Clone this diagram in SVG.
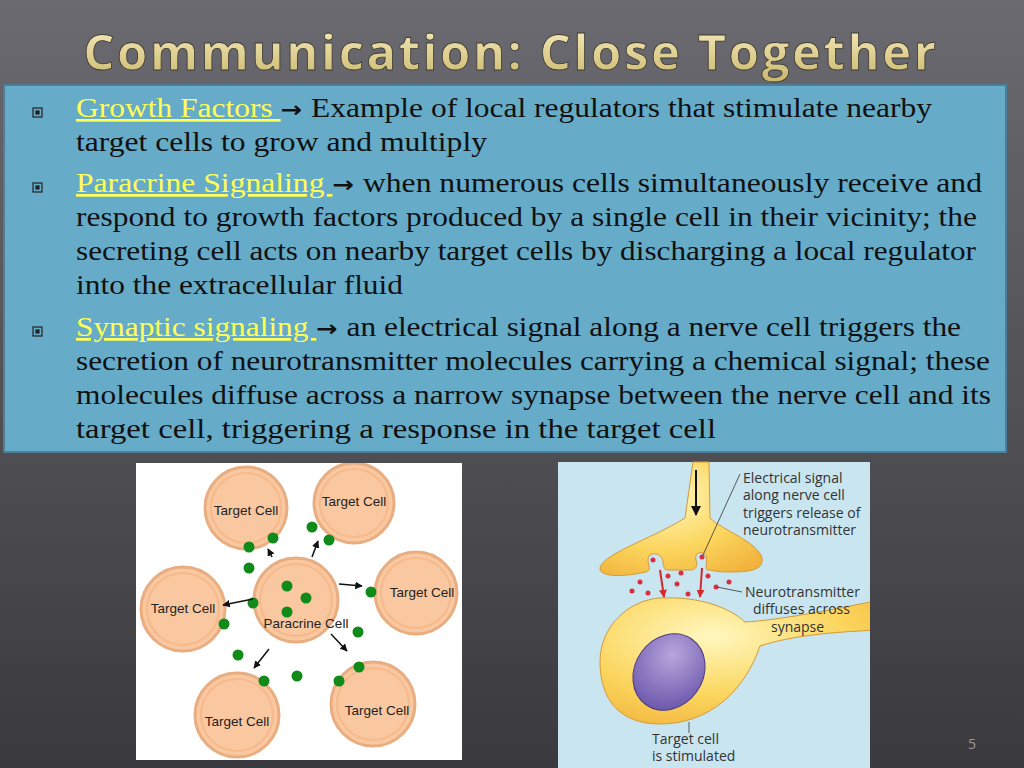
<svg xmlns="http://www.w3.org/2000/svg" width="1024" height="768" viewBox="0 0 1024 768">
<defs>
<linearGradient id="bg" x1="0" y1="0" x2="0" y2="1"><stop offset="0" stop-color="#6a6a70"/><stop offset="1" stop-color="#3a3a3e"/></linearGradient>
<linearGradient id="gold" x1="0" y1="0" x2="0" y2="1"><stop offset="0" stop-color="#fbf2c4"/><stop offset="1" stop-color="#c9b46a"/></linearGradient>
<radialGradient id="yel" cx="0.4" cy="0.3" r="0.8"><stop offset="0" stop-color="#fff8c0"/><stop offset="0.6" stop-color="#fbd55c"/><stop offset="1" stop-color="#f2b43e"/></radialGradient>
<radialGradient id="nuc" cx="0.4" cy="0.3" r="0.8"><stop offset="0" stop-color="#b9a6dc"/><stop offset="1" stop-color="#6450a8"/></radialGradient>
<clipPath id="c1"><rect x="136" y="463" width="326" height="297"/></clipPath>
<clipPath id="c2"><rect x="558" y="462" width="312" height="306"/></clipPath>
<marker id="ah" viewBox="0 0 10 10" refX="9" refY="5" markerWidth="5" markerHeight="5" orient="auto"><path d="M0,0L10,5L0,10z" fill="#111"/></marker>
<marker id="ahr" viewBox="0 0 10 10" refX="9" refY="5" markerWidth="4" markerHeight="5" orient="auto"><path d="M0,0L10,5L0,10z" fill="#d42a2a"/></marker>
</defs>
<style>
.t{font-family:"Liberation Serif",serif;font-size:27px;fill:#111}
.l{fill:#ffff55;text-decoration:underline}
.ar{font-family:"DejaVu Sans",sans-serif;font-weight:bold;font-size:22px}
.c{fill:#fac8a0;stroke:#e8ad80;stroke-width:3}
.ci{fill:none;stroke:#f6b98c;stroke-width:2}
.cl{font-family:"Liberation Sans",Arial,sans-serif;font-size:13.5px;fill:#222}
.g{fill:#108a18}
.s{font-family:"Open Sans","DejaVu Sans",sans-serif;font-size:14px;fill:#333}
.rd{fill:#d83040}
</style>
<rect width="1024" height="768" fill="url(#bg)"/>
<text x="511" y="70" text-anchor="middle" font-family="'Open Sans','DejaVu Sans',sans-serif" font-size="49" font-weight="bold" fill="url(#gold)" stroke="#3a3a30" stroke-width="0.8" letter-spacing="2.6">Communication: Close Together</text>
<rect x="4" y="85" width="1002" height="367" fill="#66abc8" stroke="#4c7e9a" stroke-width="2"/>
<g fill="none" stroke="#222" stroke-width="1.2">
<rect x="33" y="108" width="9" height="9"/><rect x="36" y="111" width="3" height="3" fill="#222"/>
<rect x="33" y="183" width="9" height="9"/><rect x="36" y="186" width="3" height="3" fill="#222"/>
<rect x="33" y="327" width="9" height="9"/><rect x="36" y="330" width="3" height="3" fill="#222"/>
</g>
<g class="t">
<text x="76" y="117" textLength="856" lengthAdjust="spacingAndGlyphs"><tspan class="l">Growth Factors </tspan><tspan class="ar"> → </tspan>Example of local regulators that stimulate nearby</text>
<text x="76" y="151" textLength="411" lengthAdjust="spacingAndGlyphs">target cells to grow and multiply</text>
<text x="76" y="192" textLength="906" lengthAdjust="spacingAndGlyphs"><tspan class="l">Paracrine Signaling </tspan><tspan class="ar"> → </tspan>when numerous cells simultaneously receive and</text>
<text x="76" y="226" textLength="901" lengthAdjust="spacingAndGlyphs">respond to growth factors produced by a single cell in their vicinity; the</text>
<text x="76" y="260" textLength="900" lengthAdjust="spacingAndGlyphs">secreting cell acts on nearby target cells by discharging a local regulator</text>
<text x="76" y="294" textLength="327" lengthAdjust="spacingAndGlyphs">into the extracellular fluid</text>
<text x="76" y="336" textLength="885" lengthAdjust="spacingAndGlyphs"><tspan class="l">Synaptic signaling </tspan><tspan class="ar"> → </tspan>an electrical signal along a nerve cell triggers the</text>
<text x="76" y="370" textLength="914" lengthAdjust="spacingAndGlyphs">secretion of neurotransmitter molecules carrying a chemical signal; these</text>
<text x="76" y="404" textLength="915" lengthAdjust="spacingAndGlyphs">molecules diffuse across a narrow synapse between the nerve cell and its</text>
<text x="76" y="438" textLength="640" lengthAdjust="spacingAndGlyphs">target cell, triggering a response in the target cell</text>
</g>
<g id="paracrine-figure">
<rect x="136" y="463" width="326" height="297" fill="#ffffff"/>
<g clip-path="url(#c1)">
<g id="tc1"><circle cx="246" cy="508" r="41" class="c"/><circle cx="246" cy="508" r="35" class="ci"/><text x="246" y="515" class="cl" text-anchor="middle">Target Cell</text></g>
<g id="tc2"><circle cx="354" cy="503" r="40" class="c"/><circle cx="354" cy="503" r="34" class="ci"/><text x="354" y="506" class="cl" text-anchor="middle">Target Cell</text></g>
<g id="tc3"><circle cx="416" cy="593" r="41" class="c"/><circle cx="416" cy="593" r="35" class="ci"/><text x="422" y="597" class="cl" text-anchor="middle">Target Cell</text></g>
<g id="tc4"><circle cx="183" cy="609" r="42" class="c"/><circle cx="183" cy="609" r="36" class="ci"/><text x="183" y="613" class="cl" text-anchor="middle">Target Cell</text></g>
<g id="tc5"><circle cx="237" cy="715" r="42" class="c"/><circle cx="237" cy="715" r="36" class="ci"/><text x="237" y="726" class="cl" text-anchor="middle">Target Cell</text></g>
<g id="tc6"><circle cx="373" cy="704" r="42" class="c"/><circle cx="373" cy="704" r="36" class="ci"/><text x="377" y="715" class="cl" text-anchor="middle">Target Cell</text></g>
<g id="pc"><circle cx="296" cy="600" r="42" class="c"/><circle cx="296" cy="600" r="36" class="ci"/><text x="306" y="628" class="cl" text-anchor="middle">Paracrine Cell</text></g>
</g>
<g>
<circle cx="249" cy="547" r="5.5" class="g"/><circle cx="273" cy="538" r="5.5" class="g"/><circle cx="312" cy="527" r="5.5" class="g"/><circle cx="329" cy="540" r="5.5" class="g"/>
<circle cx="249" cy="568" r="5.5" class="g"/><circle cx="287" cy="586" r="5.5" class="g"/><circle cx="306" cy="598" r="5.5" class="g"/><circle cx="287" cy="612" r="5.5" class="g"/>
<circle cx="253" cy="603" r="5.5" class="g"/><circle cx="224" cy="624" r="5.5" class="g"/><circle cx="371" cy="592" r="5.5" class="g"/><circle cx="358" cy="632" r="5.5" class="g"/>
<circle cx="238" cy="655" r="5.5" class="g"/><circle cx="359" cy="667" r="5.5" class="g"/><circle cx="264" cy="681" r="5.5" class="g"/><circle cx="297" cy="676" r="5.5" class="g"/><circle cx="339" cy="681" r="5.5" class="g"/>
</g>
</g>
<g id="connectors" stroke="#111" stroke-width="1.5" marker-end="url(#ah)">
<line x1="272" y1="557" x2="268" y2="549"/>
<line x1="312" y1="557" x2="318" y2="541"/>
<line x1="339" y1="584" x2="362" y2="586"/>
<line x1="253" y1="599" x2="223" y2="605"/>
<line x1="331" y1="634" x2="347" y2="651"/>
<line x1="269" y1="649" x2="254" y2="668"/>
</g>
<g id="synaptic-figure">
<rect x="558" y="462" width="312" height="306" fill="#c8e5f0"/>
<g clip-path="url(#c2)">
<path d="M880,630 C830,632 790,636 760,646 C745,690 710,724 660,724 C620,724 600,700 600,662 C600,625 630,600 660,598 C700,596 730,608 745,622 C780,620 830,610 880,600 Z" fill="url(#yel)" stroke="#d49a3a" stroke-width="1"/>
</g>
<ellipse cx="669" cy="672" rx="34" ry="40" transform="rotate(35 669 672)" fill="url(#nuc)" stroke="#4a3a80" stroke-width="1"/>
<path d="M693,462 L709,462 L710,518 C722,530 758,542 762,558 C764,570 750,572 730,572 C716,572 712,570 708,570 C704,570 708,560 706,556 C702,550 694,552 696,560 C698,566 696,570 690,570 L668,570 C662,570 664,562 662,558 C658,552 648,552 648,560 C648,566 652,570 646,572 C628,576 604,578 600,570 C598,555 650,540 685,518 Z" fill="url(#yel)" stroke="#d49a3a" stroke-width="1"/>
<line x1="696" y1="470" x2="696" y2="515" stroke="#111" stroke-width="2" marker-end="url(#ah)"/>
<line x1="660" y1="570" x2="664" y2="597" stroke="#d42a2a" stroke-width="2" marker-end="url(#ahr)"/>
<line x1="702" y1="568" x2="700" y2="597" stroke="#d42a2a" stroke-width="2" marker-end="url(#ahr)"/>
<g>
<circle cx="653" cy="560" r="2.5" class="rd"/><circle cx="702" cy="557" r="2.5" class="rd"/><circle cx="668" cy="576" r="2.5" class="rd"/><circle cx="681" cy="573" r="2.5" class="rd"/>
<circle cx="640" cy="582" r="2.5" class="rd"/><circle cx="677" cy="584" r="2.5" class="rd"/><circle cx="708" cy="576" r="2.5" class="rd"/><circle cx="729" cy="582" r="2.5" class="rd"/>
<circle cx="632" cy="591" r="2.5" class="rd"/><circle cx="648" cy="593" r="2.5" class="rd"/><circle cx="688" cy="594" r="2.5" class="rd"/><circle cx="716" cy="587" r="2.5" class="rd"/>
</g>
<g stroke="#333" stroke-width="0.8"><line x1="740" y1="474" x2="703" y2="555"/><line x1="717" y1="587" x2="742" y2="592"/><line x1="689" y1="722" x2="689" y2="733"/></g>
<text class="s"><tspan x="743" y="483">Electrical signal</tspan><tspan x="743" y="500">along nerve cell</tspan><tspan x="743" y="518">triggers release of</tspan><tspan x="743" y="535">neurotransmitter</tspan></text>
<text class="s"><tspan x="745" y="597">Neurotransmitter</tspan><tspan x="753" y="614">diffuses across</tspan><tspan x="771" y="632">synapse</tspan></text>
<text class="s"><tspan x="652" y="744">Target cell</tspan><tspan x="652" y="761">is stimulated</tspan></text>
</g>
<text x="968" y="749" font-family="'Open Sans',sans-serif" font-size="14" fill="#999">5</text>
</svg>
